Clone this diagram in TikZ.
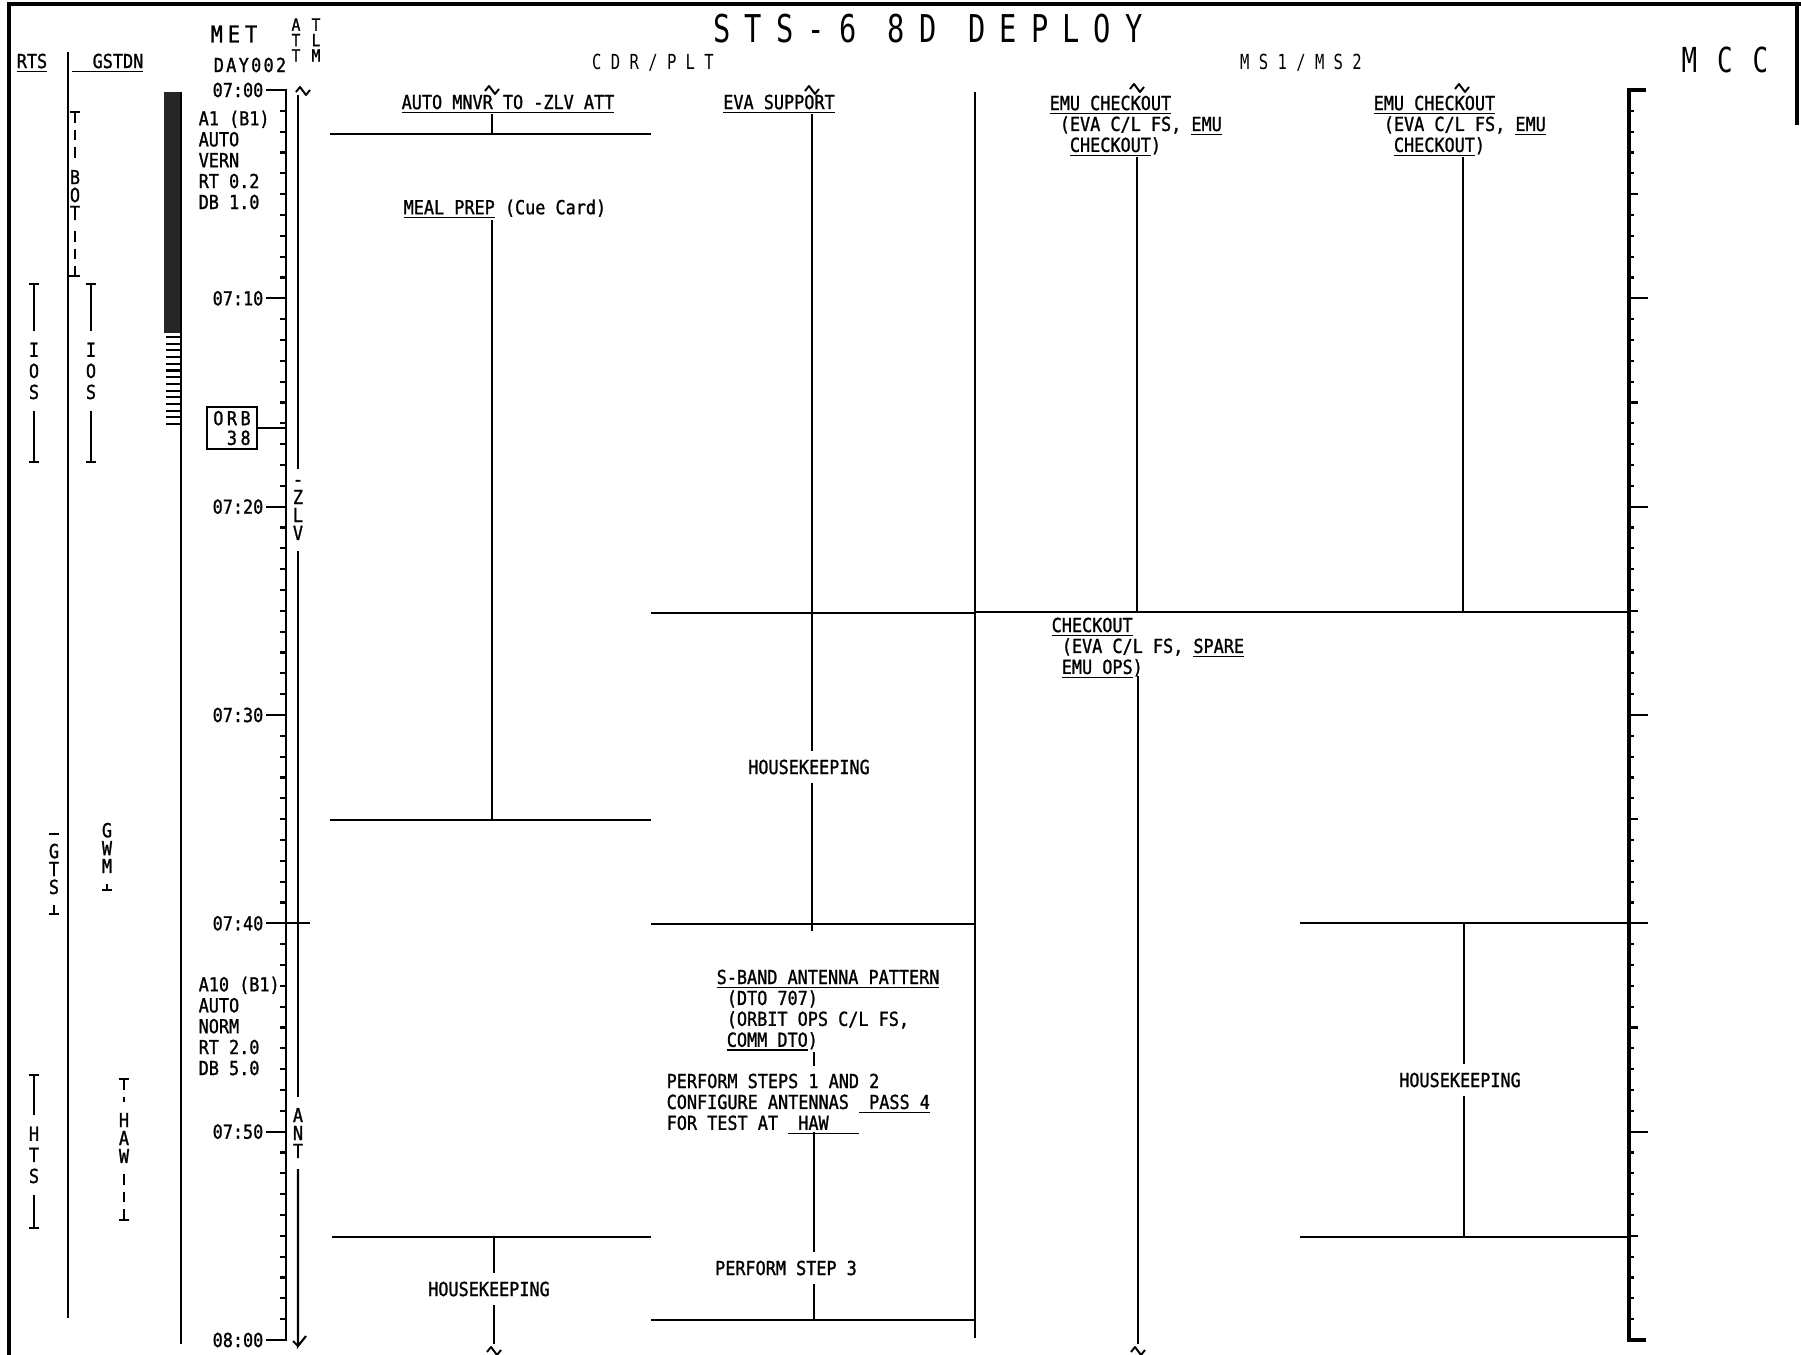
\documentclass[tikz,border=0pt]{standalone}
\usepackage{fontspec}
\setmainfont{DejaVu Sans Mono}[FakeStretch=0.87,FakeBold=1.2]
\newfontfamily\headfont{DejaVu Sans Mono}[FakeStretch=0.75]
\usepackage{tikz}
\usetikzlibrary{arrows.meta,positioning}
\newcommand{\tightlines}{\lineskiplimit -10pt\lineskip 0pt\relax}
\newcommand{\ul}[1]{\setbox0=\hbox{#1}\rlap{\rule[-1.2pt]{\wd0}{0.45pt}}\box0\relax}
\tikzset{tildemark/.pic={\draw[line width=0.55pt,line join=round] (-7,1) -- (-3,-4) -- (3,4) -- (7,-1);}}

\begin{document}
\begin{tikzpicture}[x=0.1mm,y=-0.1mm,
  txt/.style={inner sep=0pt,font={\fontsize{5.5}{5.95}\selectfont\tightlines}},
  blk/.style={txt,align=left,anchor=north west},
  gaptxt/.style={txt,fill=white,inner sep=2.5pt},
  vstack/.style={inner xsep=0pt,inner ysep=3pt,align=center,font=\fontsize{5.5}{5.1}\selectfont},
  ln/.style={line width=0.6pt},
  axln/.style={line width=0.9pt}]
\useasboundingbox (0,0) rectangle (1801,1355);
% frame
\draw[axln] (9,1355) -- (9,4) -- (1801,4);
\draw[axln] (1797,4) -- (1797,125);
% headings
\node[inner sep=0pt,font={\headfont\fontsize{10.9}{12}\selectfont\addfontfeatures{LetterSpace=37}}] (title) at (928,29) {STS-6 8D DEPLOY};
\node[inner sep=0pt,font={\headfont\fontsize{5.9}{6}\selectfont\addfontfeatures{LetterSpace=45}}] (cdr) at (653,63) {CDR/PLT};
\node[inner sep=0pt,font={\headfont\fontsize{5.9}{6}\selectfont\addfontfeatures{LetterSpace=45}}] (ms) at (1301,63) {MS1/MS2};
\node[inner sep=0pt,font={\headfont\fontsize{9.8}{10}\selectfont\addfontfeatures{LetterSpace=58}}] (mcc) at (1725,60) {MCC};
\node[inner sep=0pt,font={\fontsize{6.6}{7}\selectfont\addfontfeatures{LetterSpace=22}}] (met) at (234,34) {MET};
\node[inner sep=0pt,font={\fontsize{5.5}{6}\selectfont\addfontfeatures{LetterSpace=12}}] (day) at (250,65) {DAY002};
\node[vstack,inner ysep=0pt,font=\fontsize{4.8}{4.4}\selectfont] (att) at (296,40) {A\\T\\T};
\node[vstack,inner ysep=0pt,font=\fontsize{4.8}{4.4}\selectfont] (tlm) at (316,40) {T\\L\\M};
\node[txt] (rts) at (32,63) {\ul{RTS}};
\node[txt,anchor=east] (gstdn) at (144,63) {\ul{~~GSTDN}};
% station columns
\draw[ln] (68,52) -- (68,1318);
\draw[ln] (181,92) -- (181,1344);
\fill[black!85] (164,92) rectangle (180,333);
\foreach \k in {0,...,13} \draw[ln] (166,{337+6.7*\k}) -- (180,{337+6.7*\k});
\draw[ln] (70,112) -- (80,112);
\draw[ln,densely dashed] (75,112) -- (75,160);
\node[vstack] (bot) at (75,195) {B\\O\\T};
\draw[ln,densely dashed] (bot.south) -- (75,276);
\draw[ln] (68,276) -- (80,276);
\node[vstack,font=\fontsize{5.5}{6}\selectfont] (ios1) at (34,371) {I\\O\\S};
\draw[ln,{Bar[width=3pt]}-] (34,283) -- (ios1.north);
\draw[ln,-{Bar[width=3pt]}] (ios1.south) -- (34,463);
\node[vstack,font=\fontsize{5.5}{6}\selectfont] (ios2) at (91,371) {I\\O\\S};
\draw[ln,{Bar[width=3pt]}-] (91,283) -- (ios2.north);
\draw[ln,-{Bar[width=3pt]}] (ios2.south) -- (91,463);
\node[vstack] (gts) at (54,869) {G\\T\\S};
\draw[ln,{Bar[width=3pt]}-] (54,835) -- (gts.north);
\draw[ln,-{Bar[width=3pt]}] (gts.south) -- (54,915);
\node[vstack] (gwm) at (107,848) {G\\W\\M};
\draw[ln,-{Bar[width=3pt]}] (gwm.south) -- (107,891);
\node[vstack,font=\fontsize{5.5}{6}\selectfont] (hts) at (34,1155) {H\\T\\S};
\draw[ln,{Bar[width=3pt]}-] (34,1074) -- (hts.north);
\draw[ln,-{Bar[width=3pt]}] (hts.south) -- (34,1229);
\node[vstack] (haw) at (124,1138) {H\\A\\W};
\draw[ln,densely dashed,{Bar[width=3pt]}-] (124,1078) -- (haw.north);
\draw[ln,densely dashed,-{Bar[width=3pt]}] (haw.south) -- (124,1221);
% time line
\coordinate (axtop) at (286,90);
\draw[ln] (266,90) -- (axtop) -- (286,1340) -- (266,1340);
\foreach \m in {1,...,59} \draw[ln] (280,{90+20.833*\m}) -- (286,{90+20.833*\m});
\foreach \m/\lab in {0/07:00,10/07:10,20/07:20,30/07:30,40/07:40,50/07:50,60/08:00} {
  \node[txt,anchor=east] (lab\m) at (264,{90+20.833*\m}) {\lab};
  \draw[ln] (266,{90+20.833*\m}) -- (286,{90+20.833*\m});
}
\node[blk] (a1) at (198,110) {A1 (B1)\\AUTO\\VERN\\RT 0.2\\DB 1.0};
\node[blk] (a10) at (198,976) {A10 (B1)\\AUTO\\NORM\\RT 2.0\\DB 5.0};
\node[draw,ln,txt,inner sep=1pt,align=left,minimum width=5mm,minimum height=3.7mm,
  font={\fontsize{5.5}{5.6}\selectfont\addfontfeatures{LetterSpace=18}}] (orb) at (232,428) {ORB\\~38};
\draw[ln] (orb) -- (orb -| axtop);
% attitude line
\coordinate (atttop) at (298,95);
\pic at (303,91) {tildemark};
\node[vstack] (zlv) at (298,510) {-\\Z\\L\\V};
\node[vstack] (ant) at (298,1133) {A\\N\\T};
\draw[ln] (atttop) -- (zlv.north);
\draw[ln] (zlv.south) -- (ant.north);
\draw[ln] (ant.south) -- (298,1346) -- (306,1336);
\draw[ln] (298,1346) -- (293,1341);
\draw[ln] (286,923) -- (310,923);
% MCC scale
\draw[axln] (1646,90) -- (1629,90) -- (1629,1340) -- (1646,1340);
\foreach \m in {1,...,59} \draw[ln] (1629,{90+20.833*\m}) -- (1634,{90+20.833*\m});
\foreach \m in {5,15,...,55} \draw[ln] (1629,{90+20.833*\m}) -- (1638,{90+20.833*\m});
\foreach \m in {10,20,...,50} \draw[ln] (1629,{90+20.833*\m}) -- (1648,{90+20.833*\m});
% CDR/PLT lines
\draw[ln] (330,134) -- (651,134);
\draw[ln] (492,114) -- (492,134);
\draw[ln] (492,220) -- (492,820);
\draw[ln] (330,820) -- (651,820);
\draw[ln] (332,1237) -- (651,1237);
\draw[ln] (494,1237) -- (494,1344);
\pic at (494,1351) {tildemark};
\draw[ln] (812,114) -- (812,923);
\draw[ln] (651,613) -- (975,613);
\draw[ln] (651,924) -- (975,924);
\draw[ln] (812,924) -- (812,931);
\draw[ln] (814,1052) -- (814,1066);
\draw[ln] (814,1132) -- (814,1320);
\draw[ln] (651,1320) -- (975,1320);
\draw[ln] (975,92) -- (975,1338);
% MS1/MS2 lines
\draw[ln] (1137,157) -- (1137,612);
\draw[ln] (1463,157) -- (1463,612);
\draw[ln] (975,612) -- (1629,612);
\draw[ln] (1138,676) -- (1138,1344);
\pic at (1138,1351) {tildemark};
\draw[ln] (1300,923) -- (1629,923);
\draw[ln] (1464,923) -- (1464,1237);
\draw[ln] (1300,1237) -- (1629,1237);
% CDR/PLT activities
\pic at (492,90) {tildemark};
\node[txt] (mnvr) at (508,104) {\ul{AUTO MNVR TO -ZLV ATT}};
\node[txt,anchor=west] (meal) at (403,209) {\ul{MEAL PREP} (Cue Card)};
\node[gaptxt] (hk1) at (489,1289) {HOUSEKEEPING};
\pic at (812,90) {tildemark};
\node[txt] (evasup) at (779,104) {\ul{EVA SUPPORT}};
\node[gaptxt] (hk2) at (809,767) {HOUSEKEEPING};
\node[blk] (sband) at (716,969) {\ul{S-BAND ANTENNA PATTERN}\\~(DTO 707)\\~(ORBIT OPS C/L FS,\\~\ul{COMM DTO})};
\node[blk] (steps) at (666,1073) {PERFORM STEPS 1 AND 2\\CONFIGURE ANTENNAS \ul{~PASS 4}\\FOR TEST AT \ul{~HAW~~~}};
\node[gaptxt] (step3) at (786,1268) {PERFORM STEP 3};
% MS1/MS2 activities
\pic at (1137,88) {tildemark};
\node[blk] (emu1) at (1049,95) {\ul{EMU CHECKOUT}\\~(EVA C/L FS, \ul{EMU}\\~~\ul{CHECKOUT})};
\pic at (1462,88) {tildemark};
\node[blk] (emu2) at (1373,95) {\ul{EMU CHECKOUT}\\~(EVA C/L FS, \ul{EMU}\\~~\ul{CHECKOUT})};
\node[blk] (chk) at (1051,617) {\ul{CHECKOUT}\\~(EVA C/L FS, \ul{SPARE}\\~\ul{EMU OPS})};
\node[gaptxt] (hk3) at (1460,1080) {HOUSEKEEPING};
\end{tikzpicture}
\end{document}
